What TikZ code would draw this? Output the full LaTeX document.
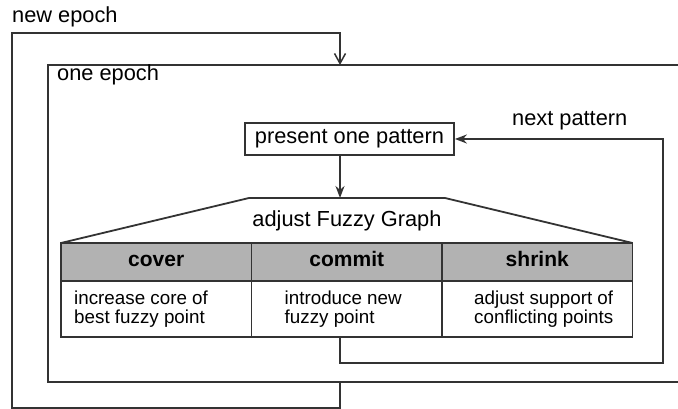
\documentclass[tikz,border=0pt]{standalone}
\usepackage{fontspec}
\setmainfont{Liberation Sans}
\usetikzlibrary{arrows.meta, positioning}

\tikzset{
  flow/.style={draw=black!80, line width=1.8pt},
  arr/.style={flow, -{Stealth[length=12pt,width=9pt]}},
  openarr/.style={flow, -{Straight Barb[length=10pt,width=11pt,line width=1.5pt]}}
}

\begin{document}
\begin{tikzpicture}[x=1pt, y=-1pt,
    lbl/.style={font=\fontsize{21.8}{24}\selectfont, inner sep=0pt},
    cell/.style={draw=black!80, line width=1.8pt, minimum width=190.5pt, inner sep=0pt, outer sep=0pt},
    head/.style={cell, fill=black!30, minimum height=38pt, font=\fontsize{21}{24}\selectfont\bfseries, text height=15pt, text depth=6pt},
    body/.style={cell, minimum height=56pt},
    txt/.style={font=\fontsize{18.8}{19.5}\selectfont, align=left, inner sep=0pt}]
  \useasboundingbox (0,0) rectangle (678,409);

  % epoch loop
  \coordinate (etop) at (340,65);
  \coordinate (ebot) at (340,382);
  \node [lbl, anchor=base west] (newlbl) at (12,23) {new epoch};
  \draw[openarr] (ebot) -- (340,408) -| (12,33) -| (etop);
  \draw[flow] (678,65) -- (48,65) -- (48,382) -- (678,382);
  \node [lbl, anchor=base west] (onelbl) at (57,81) {one epoch};

  % pattern
  \node [draw=black!80, line width=1.8pt, lbl, minimum width=209pt, minimum height=32pt] (present) at (349.5,139) {present one pattern};

  % table
  \node [head] (hcover) at (156.25,262) {cover};
  \node [head, right=0pt of hcover] (hcommit) {commit};
  \node [head, right=0pt of hcommit] (hshrink) {shrink};
  \node [body, below=0pt of hcover] (bcover) {};
  \node [body, below=0pt of hcommit] (bcommit) {};
  \node [body, below=0pt of hshrink] (bshrink) {};
  \node [txt, right=13pt of bcover.west] (tcover) {increase core of\\best fuzzy point};
  \node [txt, right=33pt of bcommit.west] (tcommit) {introduce new\\fuzzy point};
  \node [txt, right=32pt of bshrink.west] (tshrink) {adjust support of\\conflicting points};

  % trapezoid on top
  \coordinate (adj) at (340,198);
  \draw[flow] (hcover.north west) -- (249,198) -- (445,198) -- (hshrink.north east);
  \node [lbl, anchor=base] (fuzzy) at (347,226) {adjust Fuzzy Graph};
  \draw[arr] (present.south -| adj) -- (adj);

  % next pattern
  \coordinate (nxt) at (663,363);
  \draw[arr] (bcommit.south -| adj) |- (nxt) |- (present.east);
  \node [lbl, anchor=base west] (nextlbl) at (512,126) {next pattern};
\end{tikzpicture}
\end{document}
